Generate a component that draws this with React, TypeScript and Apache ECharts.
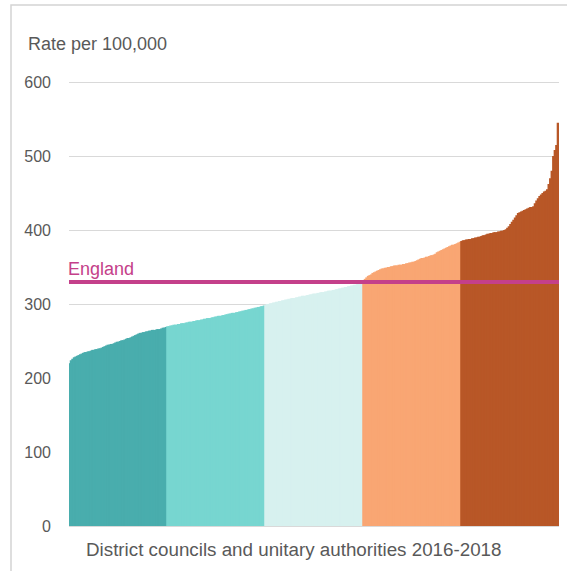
import React, { useEffect, useRef } from "react";
import * as echarts from "echarts";

const quintile1 = [
  220, 224, 226, 228, 229, 230, 231, 232, 233, 234,
  235, 235, 236, 236, 237, 238, 238, 239, 239, 240,
  240, 241, 242, 243, 244, 245, 245, 246, 246, 247,
  248, 249, 249, 250, 251, 251, 252, 253, 254, 254,
  255, 256, 257, 258, 259, 260, 261, 261, 262, 262,
  263, 263, 264, 264, 265, 265, 265, 266, 266, 266,
  267, 268, 268, 269,
];
const quintile2 = [
  270, 270, 271, 271, 272, 272, 272, 273, 273, 274,
  274, 274, 275, 275, 276, 276, 276, 277, 277, 278,
  278, 278, 279, 279, 280, 280, 281, 281, 281, 282,
  282, 283, 283, 284, 284, 284, 285, 285, 286, 286,
  287, 287, 288, 288, 288, 289, 289, 290, 290, 291,
  291, 292, 292, 293, 293, 294, 294, 295, 295, 296,
  296, 297, 297, 298,
];
const quintile3 = [
  299, 300, 300, 301, 301, 302, 302, 303, 303, 304,
  304, 305, 305, 306, 306, 307, 307, 308, 308, 308,
  309, 309, 310, 310, 311, 311, 311, 312, 312, 313,
  313, 314, 314, 314, 315, 315, 316, 316, 316, 317,
  317, 318, 318, 318, 319, 319, 320, 320, 321, 321,
  322, 322, 323, 323, 324, 324, 325, 325, 326, 326,
  327, 327, 328, 328,
];
const quintile4 = [
  331, 334, 336, 338, 339, 340, 342, 343, 344, 345,
  346, 347, 348, 348, 349, 349, 350, 350, 351, 351,
  352, 352, 352, 353, 353, 353, 354, 354, 355, 355,
  356, 356, 357, 357, 358, 359, 360, 361, 362, 362,
  363, 364, 364, 365, 366, 366, 367, 368, 370, 371,
  372, 373, 374, 375, 376, 377, 378, 379, 380, 380,
  381, 382, 383, 384,
];
const quintile5 = [
  385, 386, 386, 387, 387, 388, 388, 389, 389, 390,
  390, 391, 391, 392, 393, 393, 394, 395, 395, 396,
  396, 397, 397, 397, 398, 398, 399, 399, 400, 401,
  403, 405, 408, 411, 414, 417, 420, 423, 424, 425,
  426, 427, 428, 429, 430, 431, 431, 432, 436, 440,
  443, 446, 448, 450, 452, 453, 455, 462, 470, 480,
  500, 508, 515, 545,
];

const quintileColors = ["#49adad", "#77d6d0", "#d7f1ef", "#f9a673", "#b85727"];
const englandRate = 330;
const englandLabel = "England";
const yAxisTitle = "Rate per 100,000";
const xAxisTitle = "District councils and unitary authorities 2016-2018";
const yMin = 0;
const yMax = 600;
const yStep = 100;

const FONT = "'Liberation Sans', Arial, sans-serif";
const TEXT = "#595959";
const ENGLAND_COLOR = "#c4408a";

export default function App() {
  const ref = useRef<HTMLDivElement>(null);

  useEffect(() => {
    if (!ref.current) return;
    const chart = echarts.init(ref.current, undefined, { renderer: "svg" });

    const quintiles = [quintile1, quintile2, quintile3, quintile4, quintile5];
    const data = quintiles.flatMap((q, qi) =>
      q.map((v) => ({
        value: v,
        itemStyle: { color: quintileColors[qi] },
      }))
    );
    const categories = data.map((_, i) => String(i + 1));

    chart.setOption({
      animation: false,
      backgroundColor: "#ffffff",
      textStyle: { fontFamily: FONT },
      grid: { left: 69, right: 8, top: 82, bottom: 45, containLabel: false },
      xAxis: {
        type: "category",
        data: categories,
        axisLine: { show: false },
        axisTick: { show: false },
        axisLabel: { show: false },
        splitLine: { show: false },
      },
      yAxis: {
        type: "value",
        min: yMin,
        max: yMax,
        interval: yStep,
        axisLine: { show: false },
        axisTick: { show: false },
        axisLabel: { color: TEXT, fontSize: 16, fontFamily: FONT, margin: 18 },
        splitLine: { lineStyle: { color: "#d9d9d9", width: 1 } },
      },
      series: [
        {
          type: "bar",
          data,
          barWidth: "200%",
          barGap: "-100%",
          markLine: {
            silent: true,
            symbol: "none",
            data: [{ yAxis: englandRate }],
            lineStyle: { color: ENGLAND_COLOR, width: 4, type: "solid" },
            label: {
              show: true,
              position: "insideStartTop",
              formatter: englandLabel,
              color: ENGLAND_COLOR,
              fontSize: 18,
              fontFamily: FONT,
              distance: [-1, 4],
            },
            emphasis: { disabled: true },
          },
        },
      ],
      graphic: [
        {
          type: "rect",
          shape: { x: 11, y: 5, width: 700, height: 700 },
          style: { fill: "none", stroke: "#d4d4d4", lineWidth: 1.5 },
          silent: true,
        },
        {
          type: "text",
          x: 28,
          y: 44,
          style: {
            text: yAxisTitle,
            fill: TEXT,
            fontSize: 18,
            fontFamily: FONT,
            verticalAlign: "middle",
            align: "left",
          },
        },
        {
          type: "text",
          x: 86,
          y: 549,
          style: {
            text: xAxisTitle,
            fill: TEXT,
            fontSize: 18.8,
            fontFamily: FONT,
            verticalAlign: "middle",
            align: "left",
          },
        },
      ],
    });

    return () => chart.dispose();
  }, []);

  return (
    <div
      ref={ref}
      style={{ position: "absolute", left: 0, top: 0, width: 567, height: 571 }}
    />
  );
}
